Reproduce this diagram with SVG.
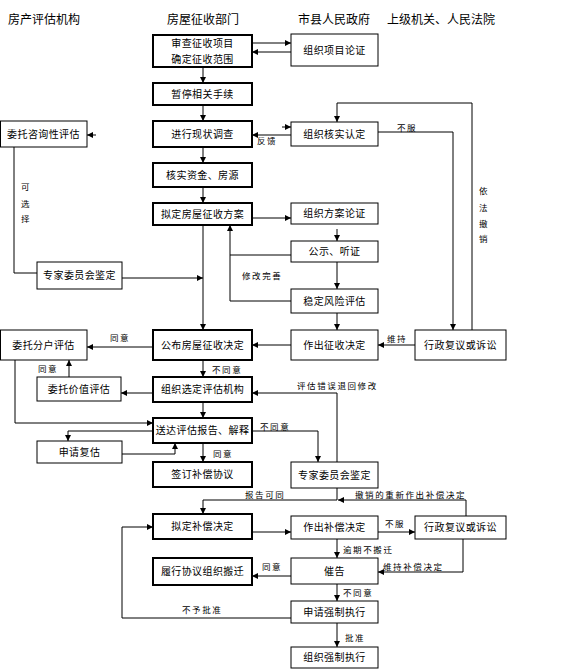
<svg xmlns="http://www.w3.org/2000/svg" width="572" height="669" viewBox="0 0 572 669">
<defs>
<marker id="ah" markerUnits="userSpaceOnUse" markerWidth="7" markerHeight="7" refX="6" refY="3" orient="auto"><path d="M0,0 L6,3 L0,6 z" fill="#000"/></marker>
</defs>
<style>
text{font-family:"Noto Sans CJK SC","Noto Sans",sans-serif;fill:#000}
.h{font-size:12px}
.t{font-size:10px;letter-spacing:0.4px;text-anchor:middle}
.l{font-size:8.5px;letter-spacing:1.6px}
.bx{fill:#fff;stroke:#000;stroke-width:1}
.bb{fill:#fff;stroke:#000;stroke-width:2}
.c{fill:none;stroke:#000;stroke-width:1}
.a{fill:none;stroke:#000;stroke-width:1;marker-end:url(#ah)}
</style>
<rect width="572" height="669" fill="#fff"/>
<g id="headers">
<text class="h" x="8" y="24">房产评估机构</text>
<text class="h" x="167" y="24">房屋征收部门</text>
<text class="h" x="298" y="24">市县人民政府</text>
<text class="h" x="387" y="24">上级机关、人民法院</text>
</g>
<g id="connectors">
<path class="a" d="M252,43 H291"/>
<path class="a" d="M291,52 H252"/>
<path class="a" d="M203,67 V83"/>
<path class="a" d="M203,105 V121"/>
<path class="a" d="M203,147 V163"/>
<path class="a" d="M203,187 V203"/>
<path class="a" d="M96,135 H87"/>
<path class="a" d="M282,127 H291"/>
<path class="a" d="M291,135 H252"/>
<path class="a" d="M378,132 H453 V330"/>
<path class="c" d="M472,330 V103 H337"/>
<path class="a" d="M337,103 V122"/>
<path class="c" d="M14,147 V273 H37"/>
<path class="a" d="M122,278 H203"/>
<path class="a" d="M252,218 H291"/>
<path class="a" d="M337,229 V241"/>
<path class="c" d="M291,255 H230"/>
<path class="a" d="M291,301 H230 V225"/>
<path class="a" d="M337,262 V289"/>
<path class="a" d="M337,313 V330"/>
<path class="a" d="M203,225 V330"/>
<path class="a" d="M415,345 H378"/>
<path class="a" d="M291,345 H252"/>
<path class="a" d="M153,347 H87"/>
<path class="a" d="M203,360 V377"/>
<path class="a" d="M69,377 V360"/>
<path class="a" d="M153,393 H121"/>
<path class="a" d="M15,360 V423 H153"/>
<path class="a" d="M153,431 H68 V441"/>
<path class="a" d="M122,454 H175 V443"/>
<path class="a" d="M203,402 V418"/>
<path class="a" d="M203,443 V462"/>
<path class="a" d="M252,431 H318 V462"/>
<path class="a" d="M337,462 V393 H252"/>
<path class="a" d="M337,488 V500 H203 V514"/>
<path class="a" d="M466,516 V500 H338"/>
<path class="a" d="M252,532 H291"/>
<path class="a" d="M378,532 H415"/>
<path class="a" d="M337,539 V558"/>
<path class="a" d="M463,539 V572 H378"/>
<path class="a" d="M291,576 H252"/>
<path class="a" d="M337,584 V601"/>
<path class="a" d="M291,618 H122 V527 H153"/>
<path class="a" d="M337,623 V647"/>
</g>
<g id="labels">
<text class="l" x="257" y="144">反馈</text>
<text class="l" x="397" y="131">不服</text>
<text class="l" x="479" y="194">依</text>
<text class="l" x="479" y="211">法</text>
<text class="l" x="479" y="227">撤</text>
<text class="l" x="479" y="242">销</text>
<text class="l" x="21" y="190">可</text>
<text class="l" x="21" y="207">选</text>
<text class="l" x="21" y="222">择</text>
<text class="l" x="242" y="279">修改完善</text>
<text class="l" x="387" y="342">维持</text>
<text class="l" x="110" y="341">同意</text>
<text class="l" x="38" y="372">同意</text>
<text class="l" x="212" y="373">不同意</text>
<text class="l" x="297" y="389">评估错误退回修改</text>
<text class="l" x="260" y="430">不同意</text>
<text class="l" x="213" y="457">同意</text>
<text class="l" x="245" y="498">报告可同</text>
<text class="l" x="355" y="498">撤销的重新作出补偿决定</text>
<text class="l" x="385" y="527">不服</text>
<text class="l" x="343" y="553">逾期不搬迁</text>
<text class="l" x="383" y="570">维持补偿决定</text>
<text class="l" x="262" y="570">同意</text>
<text class="l" x="343" y="596">不同意</text>
<text class="l" x="182" y="613">不予批准</text>
<text class="l" x="345" y="641">批准</text>
</g>
<g id="b1"><rect class="bb" x="153" y="35" width="99" height="32"/><text class="t" x="202.5" y="47">审查征收项目</text><text class="t" x="202.5" y="63">确定征收范围</text></g>
<g id="b2"><rect class="bb" x="153" y="83" width="99" height="22"/><text class="t" x="202.5" y="98">暂停相关手续</text></g>
<g id="b3"><rect class="bb" x="153" y="121" width="99" height="26"/><text class="t" x="202.5" y="138">进行现状调查</text></g>
<g id="b4"><rect class="bb" x="153" y="163" width="99" height="24"/><text class="t" x="202.5" y="179">核实资金、房源</text></g>
<g id="b5"><rect class="bb" x="153" y="203" width="99" height="22"/><text class="t" x="202.5" y="218">拟定房屋征收方案</text></g>
<g id="b6"><rect class="bb" x="153" y="330" width="99" height="30"/><text class="t" x="202.5" y="349">公布房屋征收决定</text></g>
<g id="b7"><rect class="bb" x="153" y="377" width="99" height="25"/><text class="t" x="202.5" y="393">组织选定评估机构</text></g>
<g id="b8"><rect class="bb" x="153" y="418" width="99" height="25"/><text class="t" x="202.5" y="434">送达评估报告、解释</text></g>
<g id="b9"><rect class="bb" x="153" y="462" width="99" height="25"/><text class="t" x="202.5" y="478">签订补偿协议</text></g>
<g id="b10"><rect class="bb" x="153" y="514" width="99" height="25"/><text class="t" x="202.5" y="530">拟定补偿决定</text></g>
<g id="b11"><rect class="bb" x="153" y="558" width="99" height="27"/><text class="t" x="202.5" y="575">履行协议组织搬迁</text></g>
<g id="r1"><rect class="bx" x="291" y="34" width="87" height="32"/><text class="t" x="334.5" y="54">组织项目论证</text></g>
<g id="r2"><rect class="bx" x="291" y="122" width="87" height="24"/><text class="t" x="334.5" y="138">组织核实认定</text></g>
<g id="r3"><rect class="bx" x="291" y="203" width="87" height="21"/><text class="t" x="334.5" y="217">组织方案论证</text></g>
<g id="r4"><rect class="bx" x="291" y="241" width="87" height="21"/><text class="t" x="334.5" y="255">公示、听证</text></g>
<g id="r5"><rect class="bx" x="291" y="289" width="87" height="24"/><text class="t" x="334.5" y="305">稳定风险评估</text></g>
<g id="r6"><rect class="bx" x="291" y="330" width="87" height="30"/><text class="t" x="334.5" y="349">作出征收决定</text></g>
<g id="r7"><rect class="bx" x="291" y="462" width="87" height="26"/><text class="t" x="334.5" y="479">专家委员会鉴定</text></g>
<g id="r8"><rect class="bx" x="291" y="516" width="87" height="23"/><text class="t" x="334.5" y="531">作出补偿决定</text></g>
<g id="r9"><rect class="bx" x="291" y="558" width="87" height="26"/><text class="t" x="334.5" y="575">催告</text></g>
<g id="r10"><rect class="bx" x="291" y="601" width="87" height="22"/><text class="t" x="334.5" y="616">申请强制执行</text></g>
<g id="r11"><rect class="bx" x="291" y="647" width="87" height="21"/><text class="t" x="334.5" y="661">组织强制执行</text></g>
<g id="f1"><rect class="bx" x="415" y="330" width="91" height="30"/><text class="t" x="460.5" y="349">行政复议或诉讼</text></g>
<g id="f2"><rect class="bx" x="415" y="516" width="91" height="23"/><text class="t" x="460.5" y="531">行政复议或诉讼</text></g>
<g id="l1"><rect class="bx" x="0.5" y="121" width="86.5" height="26"/><text class="t" x="43.5" y="138">委托咨询性评估</text></g>
<g id="l2"><rect class="bx" x="37" y="262" width="85" height="27"/><text class="t" x="79.5" y="279">专家委员会鉴定</text></g>
<g id="l3"><rect class="bx" x="0.5" y="330" width="86.5" height="30"/><text class="t" x="43.5" y="349">委托分户评估</text></g>
<g id="l4"><rect class="bx" x="37" y="377" width="84" height="24"/><text class="t" x="79" y="393">委托价值评估</text></g>
<g id="l5"><rect class="bx" x="37" y="441" width="85" height="22"/><text class="t" x="79.5" y="456">申请复估</text></g>
</svg>
